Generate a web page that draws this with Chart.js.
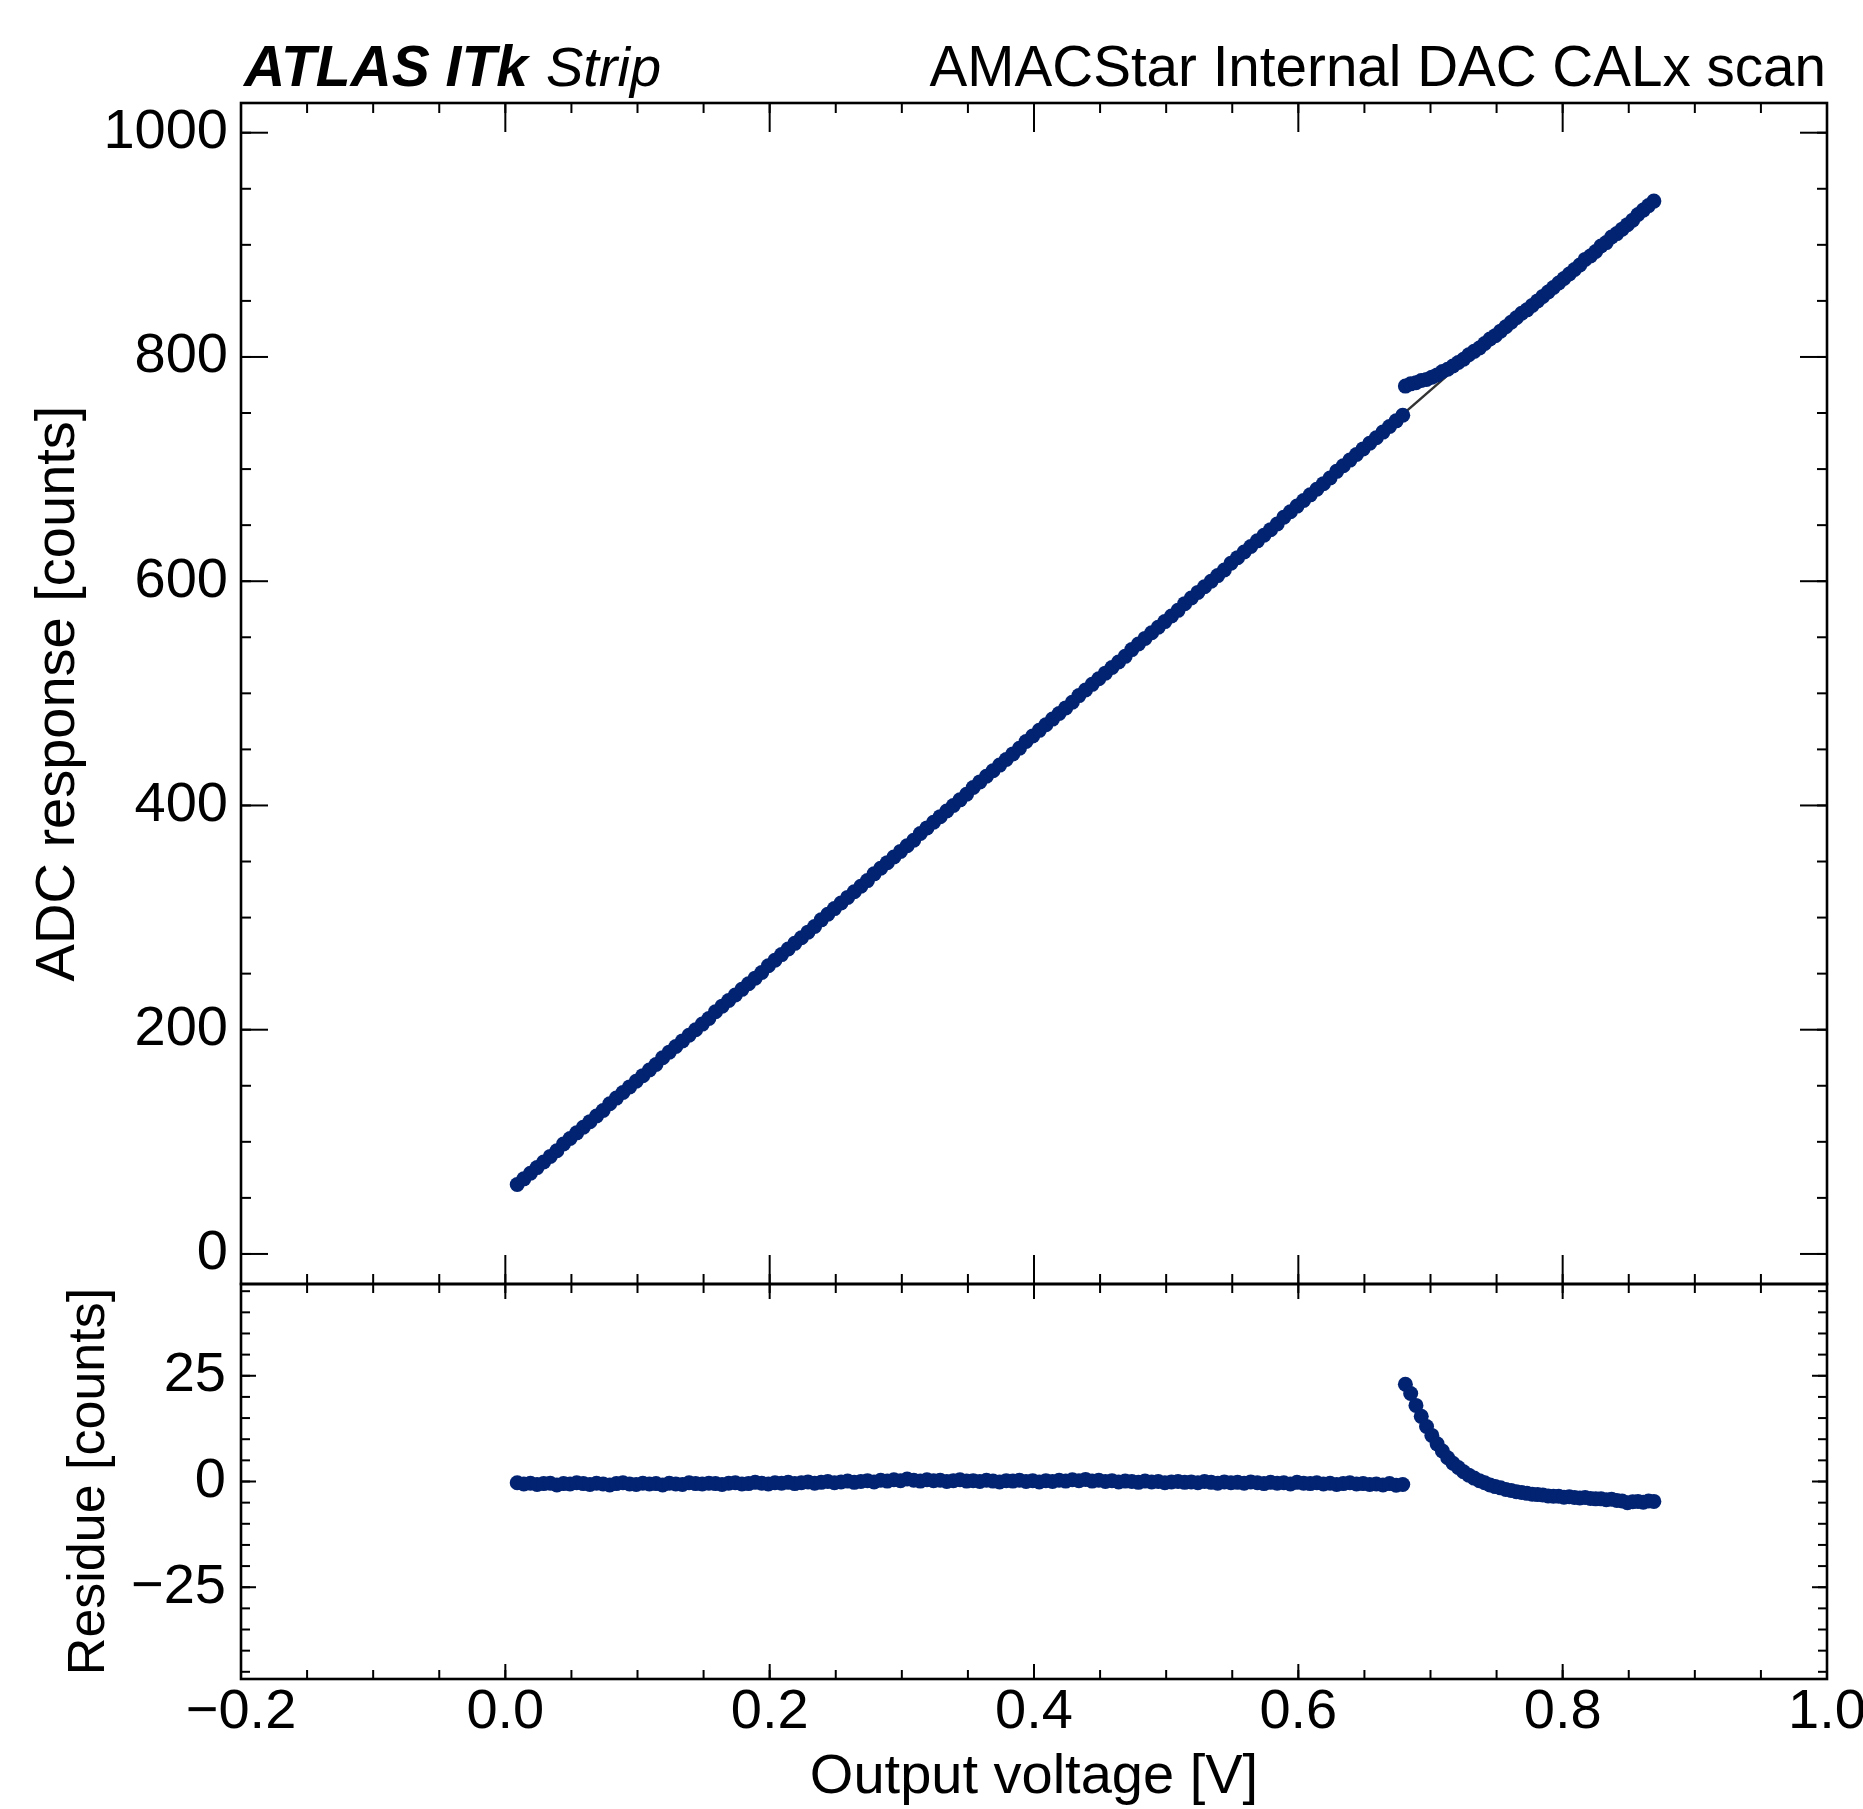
<!DOCTYPE html>
<html>
<head>
<meta charset="utf-8">
<script src="https://cdn.jsdelivr.net/npm/chart.js@4.4.1/dist/chart.umd.min.js"></script>
<style>
  html, body { margin: 0; padding: 0; background: #fff; }
  body { width: 1863px; height: 1809px; position: relative; overflow: hidden; }
  canvas { position: absolute; left: 0; }
  #main { top: 0; }
  #resid { top: 1230px; }
</style>
</head>
<body>
<canvas id="main" width="1863" height="1290"></canvas>
<canvas id="resid" width="1863" height="579"></canvas>
<script>
// scan below the 0.68 V step
const voltLow = [
  0.009, 0.014, 0.019, 0.024, 0.029, 0.034, 0.039, 0.044, 0.049, 0.054,
  0.059, 0.064, 0.069, 0.074, 0.079, 0.084, 0.089, 0.094, 0.099, 0.104,
  0.109, 0.114, 0.119, 0.124, 0.129, 0.134, 0.139, 0.144, 0.149, 0.154,
  0.159, 0.164, 0.169, 0.174, 0.179, 0.184, 0.189, 0.194, 0.199, 0.204,
  0.209, 0.214, 0.219, 0.224, 0.229, 0.234, 0.239, 0.244, 0.249, 0.254,
  0.259, 0.264, 0.269, 0.274, 0.279, 0.284, 0.289, 0.294, 0.299, 0.304,
  0.309, 0.314, 0.319, 0.324, 0.329, 0.334, 0.339, 0.344, 0.349, 0.354,
  0.359, 0.364, 0.369, 0.374, 0.379, 0.384, 0.389, 0.394, 0.399, 0.404,
  0.409, 0.414, 0.419, 0.424, 0.429, 0.434, 0.439, 0.444, 0.449, 0.454,
  0.459, 0.464, 0.469, 0.474, 0.479, 0.484, 0.489, 0.494, 0.499, 0.504,
  0.509, 0.514, 0.519, 0.524, 0.529, 0.534, 0.539, 0.544, 0.549, 0.554,
  0.559, 0.564, 0.569, 0.574, 0.579, 0.584, 0.589, 0.594, 0.599, 0.604,
  0.609, 0.614, 0.619, 0.624, 0.629, 0.634, 0.639, 0.644, 0.649, 0.654,
  0.659, 0.664, 0.669, 0.674, 0.679
];
const adcLow = [
  62, 67, 72, 77, 82, 87, 92, 98, 103, 108,
  113, 118, 123, 128, 134, 139, 144, 149, 154, 159,
  164, 169, 175, 180, 185, 190, 195, 200, 205, 210,
  216, 221, 226, 231, 236, 241, 246, 251, 257, 262,
  267, 272, 277, 282, 287, 292, 298, 303, 308, 313,
  318, 323, 328, 333, 339, 344, 349, 354, 359, 364,
  369, 375, 380, 385, 390, 395, 400, 405, 410, 416,
  421, 426, 431, 436, 441, 446, 451, 457, 462, 467,
  472, 477, 482, 487, 492, 498, 503, 508, 513, 518,
  523, 528, 533, 539, 544, 549, 554, 559, 564, 569,
  574, 580, 585, 590, 595, 600, 605, 610, 616, 621,
  626, 631, 636, 641, 646, 651, 657, 662, 667, 672,
  677, 682, 687, 692, 698, 703, 708, 713, 718, 723,
  728, 733, 738, 743, 748
];
const residLow = [
  -0.3, -0.6, -0.4, -0.7, -0.5, -0.4, -0.8, -0.5, -0.6, -0.3,
  -0.5, -0.7, -0.4, -0.6, -0.8, -0.5, -0.3, -0.6, -0.7, -0.4,
  -0.6, -0.5, -0.8, -0.4, -0.6, -0.7, -0.3, -0.5, -0.6, -0.4,
  -0.5, -0.7, -0.4, -0.3, -0.6, -0.5, -0.2, -0.4, -0.6, -0.3,
  -0.4, -0.2, -0.5, -0.3, -0.1, -0.4, -0.2, 0.0, -0.3, -0.1,
  0.1, -0.2, 0.0, 0.2, -0.1, 0.3, 0.1, 0.4, 0.2, 0.6,
  0.3, 0.1, 0.4, 0.2, 0.3, 0.0, 0.2, 0.4, 0.1, 0.2,
  0.0, 0.3, 0.1, -0.1, 0.2, 0.1, 0.3, 0.0, 0.2, -0.1,
  0.2, 0.0, 0.3, 0.1, 0.4, 0.2, 0.5, 0.1, 0.3, 0.0,
  0.2, -0.1, 0.1, 0.0, -0.2, 0.1, -0.1, 0.0, -0.3, -0.1,
  0.0, -0.2, -0.1, -0.3, 0.0, -0.2, -0.4, -0.1, -0.3, -0.2,
  -0.4, -0.1, -0.3, -0.5, -0.2, -0.4, -0.3, -0.6, -0.2, -0.4,
  -0.5, -0.3, -0.6, -0.4, -0.7, -0.5, -0.3, -0.6, -0.5, -0.7,
  -0.6, -0.8, -0.5, -0.9, -0.7
];

// scan above the step
const voltHigh = [
  0.681, 0.685, 0.689, 0.693, 0.697, 0.701, 0.705, 0.709, 0.713, 0.717,
  0.721, 0.725, 0.729, 0.733, 0.737, 0.741, 0.745, 0.749, 0.753, 0.757,
  0.761, 0.765, 0.769, 0.773, 0.777, 0.781, 0.785, 0.789, 0.793, 0.797,
  0.801, 0.805, 0.809, 0.813, 0.817, 0.821, 0.825, 0.829, 0.833, 0.837,
  0.841, 0.845, 0.849, 0.853, 0.857, 0.861, 0.865, 0.869
];
const adcHigh = [
  774, 776, 777, 779, 780, 782, 784, 787, 789, 792,
  795, 798, 802, 805, 808, 812, 816, 819, 823, 827,
  831, 835, 839, 842, 846, 850, 854, 858, 862, 866,
  870, 874, 878, 882, 887, 890, 894, 899, 902, 907,
  910, 914, 918, 922, 927, 931, 935, 939
];
const residHigh = [
  23.0, 20.8, 18.0, 15.4, 13.0, 10.9, 8.9, 7.2, 5.6, 4.3,
  3.3, 2.3, 1.5, 0.8, 0.2, -0.3, -0.8, -1.2, -1.5, -1.9,
  -2.1, -2.4, -2.6, -2.8, -3.0, -3.1, -3.2, -3.4, -3.5, -3.5,
  -3.7, -3.6, -3.8, -3.9, -3.8, -4.0, -4.1, -4.1, -4.3, -4.2,
  -4.5, -4.6, -5.0, -4.8, -4.7, -4.9, -4.6, -4.7
];

// linear fit end points
const fitVolt = [0.009, 0.869];
const fitAdc = [61.7, 943.7];

// tick labels
const voltTicks = [-0.2, 0.0, 0.2, 0.4, 0.6, 0.8, 1.0];
const adcTicks = [0, 200, 400, 600, 800, 1000];
const residTicks = [-25, 0, 25];

const FONT = "'Liberation Sans', Arial, Helvetica, sans-serif";
const MARKER = '#022372';
Chart.defaults.font.family = FONT;
Chart.defaults.color = '#000';

const pts = (xs, ys) => xs.map((x, i) => ({ x, y: ys[i] }));
const useTicks = values => scale => { scale.ticks = values.map(value => ({ value })); };
const fixedWidth = w => scale => { scale.width = w; scale.paddingTop = 0; scale.paddingBottom = 0; };
const fixedHeight = h => scale => { scale.height = h; scale.paddingLeft = 0; scale.paddingRight = 0; };
const minus = s => String(s).replace('-', '\u2212');

// inward ticks on all four sides plus the frame
const frameTicks = {
  id: 'frameTicks',
  afterDraw(chart, args, o) {
    const { ctx, chartArea: a, scales: { x, y } } = chart;
    const seg = (x0, y0, x1, y1) => { ctx.beginPath(); ctx.moveTo(x0, y0); ctx.lineTo(x1, y1); ctx.stroke(); };
    const steps = (scale, step) => {
      const out = [];
      const first = Math.ceil((scale.min - 1e-9) / step);
      const last = Math.floor((scale.max + 1e-9) / step);
      for (let i = first; i <= last; i++) out.push(i * step);
      return out;
    };
    ctx.save();
    ctx.strokeStyle = '#000';
    ctx.lineWidth = 2;
    const xTick = (v, len) => {
      const p = x.getPixelForValue(v);
      seg(p, a.top, p, a.top + len);
      seg(p, a.bottom, p, a.bottom - len);
    };
    const yTick = (v, len) => {
      const p = y.getPixelForValue(v);
      seg(a.left, p, a.left + len, p);
      seg(a.right, p, a.right - len, p);
    };
    steps(x, o.xMinor).forEach(v => xTick(v, o.minorLen));
    steps(y, o.yMinor).forEach(v => yTick(v, o.minorLen));
    x.ticks.forEach(t => xTick(t.value, o.xMajorLen));
    y.ticks.forEach(t => yTick(t.value, o.yMajorLen));
    ctx.lineWidth = 2.6;
    ctx.strokeRect(a.left, a.top, a.right - a.left, a.bottom - a.top);
    ctx.restore();
  }
};

const header = {
  id: 'header',
  afterDraw(chart) {
    const { ctx } = chart;
    ctx.save();
    ctx.fillStyle = '#000';
    ctx.textBaseline = 'alphabetic';
    ctx.textAlign = 'left';
    ctx.font = `italic bold 57px ${FONT}`;
    ctx.fillText('ATLAS ITk', 244, 86);
    const w = ctx.measureText('ATLAS ITk').width;
    ctx.font = `italic 56px ${FONT}`;
    ctx.fillText('Strip', 244 + w + 18, 86);
    ctx.textAlign = 'right';
    ctx.font = `56.6px ${FONT}`;
    ctx.fillText('AMACStar Internal DAC CALx scan', 1826, 86);
    ctx.restore();
  }
};

const base = {
  responsive: false,
  animation: false,
  events: [],
  plugins: { legend: { display: false }, tooltip: { enabled: false } }
};

new Chart(document.getElementById('main'), {
  type: 'scatter',
  data: {
    datasets: [
      {
        data: pts(voltLow.concat(voltHigh), adcLow.concat(adcHigh)),
        backgroundColor: MARKER,
        borderWidth: 0,
        pointRadius: 7.5,
        order: 1,
      },
      {
        data: pts(fitVolt, fitAdc),
        showLine: true,
        borderColor: '#333',
        borderWidth: 2.4,
        pointRadius: 0,
        order: 2,
      },
    ],
  },
  plugins: [frameTicks, header],
  options: {
    ...base,
    layout: { padding: { top: 103, left: 0, right: 36, bottom: 6 }, autoPadding: false },
    plugins: {
      ...base.plugins,
      frameTicks: { xMinor: 0.05, yMinor: 50, minorLen: 10, xMajorLen: 29, yMajorLen: 27 },
    },
    scales: {
      x: { type: 'linear', display: false, min: -0.2, max: 1.0 },
      y: {
        min: -26.8,
        max: 1026.5,
        afterBuildTicks: useTicks(adcTicks),
        afterFit: fixedWidth(241),
        grid: { display: false, drawTicks: false },
        border: { display: false },
        ticks: { padding: 13, autoSkip: false, font: { size: 56, lineHeight: 1 }, callback: v => minus(v) },
        title: { display: true, text: 'ADC response [counts]', font: { size: 56, lineHeight: 1 }, padding: { top: 31, bottom: 0 } },
      },
    },
  },
});

new Chart(document.getElementById('resid'), {
  type: 'scatter',
  data: {
    datasets: [
      {
        data: pts(voltLow.concat(voltHigh), residLow.concat(residHigh)),
        backgroundColor: MARKER,
        borderWidth: 0,
        pointRadius: 7.5,
      },
    ],
  },
  plugins: [frameTicks],
  options: {
    ...base,
    layout: { padding: { top: 54, left: 0, right: 36, bottom: 3 }, autoPadding: false },
    plugins: {
      ...base.plugins,
      frameTicks: { xMinor: 0.05, yMinor: 5, minorLen: 9, xMajorLen: 15, yMajorLen: 15 },
    },
    scales: {
      x: {
        type: 'linear',
        min: -0.2,
        max: 1.0,
        afterBuildTicks: useTicks(voltTicks),
        afterFit: fixedHeight(127),
        grid: { display: false, drawTicks: false },
        border: { display: false },
        ticks: { padding: 6, autoSkip: false, maxRotation: 0, font: { size: 56, lineHeight: 1 }, callback: v => minus(v.toFixed(1)) },
        title: { display: true, text: 'Output voltage [V]', font: { size: 56, lineHeight: 1 }, padding: { top: 0, bottom: 0 } },
      },
      y: {
        min: -46.7,
        max: 46.7,
        afterBuildTicks: useTicks(residTicks),
        afterFit: fixedWidth(241),
        grid: { display: false, drawTicks: false },
        border: { display: false },
        ticks: { padding: 15, autoSkip: false, font: { size: 56, lineHeight: 1 }, callback: v => minus(v) },
        title: { display: true, text: 'Residue [counts]', font: { size: 52, lineHeight: 1 }, padding: { top: 64, bottom: 0 } },
      },
    },
  },
});
</script>
</body>
</html>
